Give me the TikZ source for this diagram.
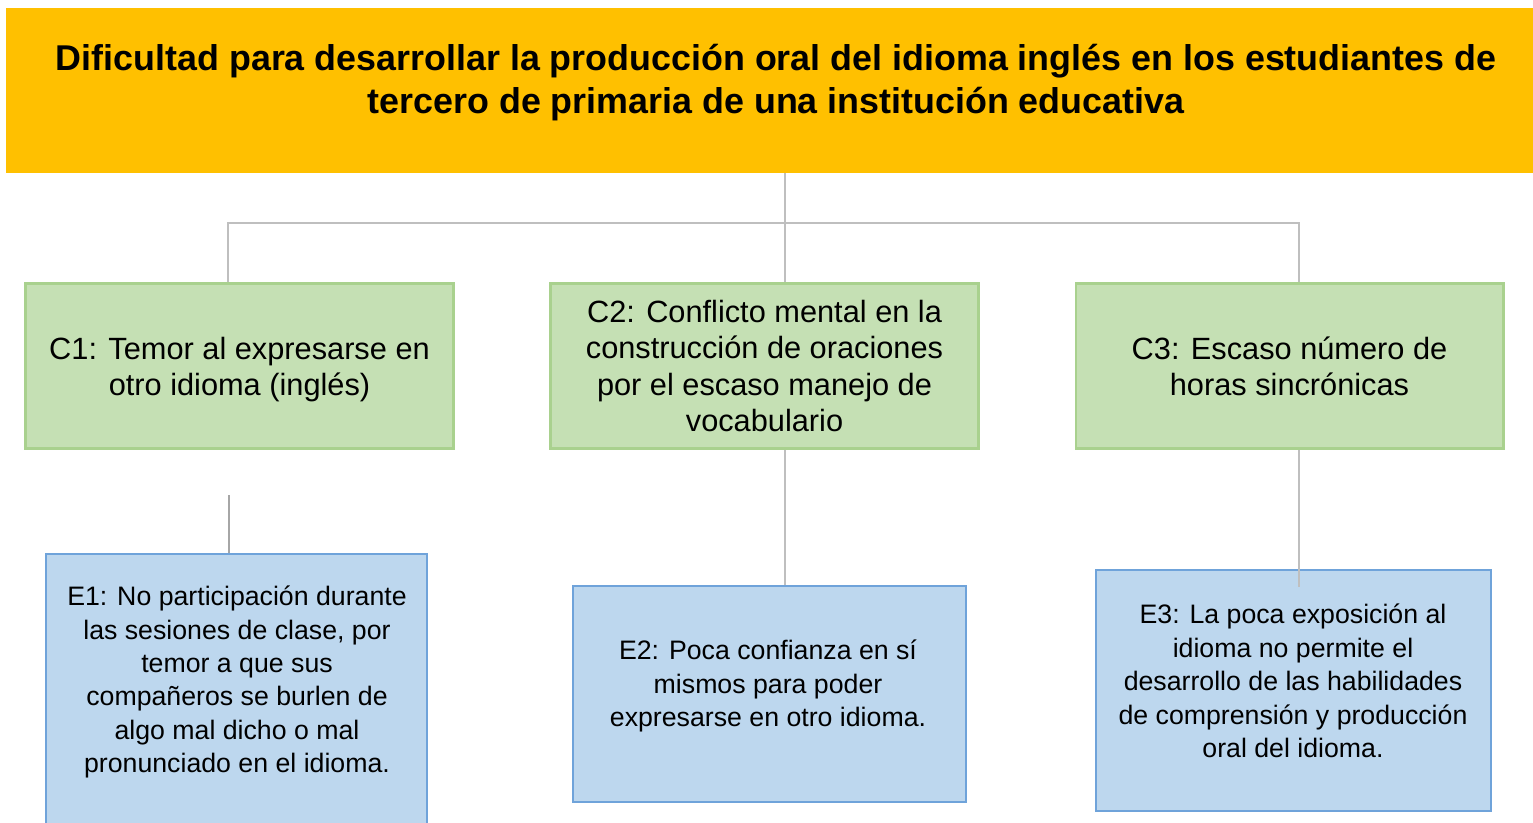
\documentclass[tikz,border=0pt]{standalone}
\usepackage{fontspec}
\setmainfont{Liberation Sans}
\usetikzlibrary{positioning}
\definecolor{titleorange}{HTML}{FFC000}
\definecolor{causegreen}{HTML}{C5E0B4}
\definecolor{causeedge}{HTML}{A9D18E}
\definecolor{effectblue}{HTML}{BDD7EE}
\definecolor{effectedge}{HTML}{6FA3DA}
\definecolor{linkgray}{HTML}{BFBFBF}
\definecolor{stubgray}{HTML}{A6A6A6}
\tikzset{font=\fontsize{17.5}{20.6}\selectfont}
\tikzset{
  topbox/.style={fill=titleorange, minimum width=30.68cm, minimum height=3.3cm, inner sep=0pt},
  cause/.style={draw=causeedge, fill=causegreen, line width=1.2pt, minimum width=8.56cm,
    minimum height=3.3cm, align=center, inner sep=0pt},
  effect/.style={draw=effectedge, fill=effectblue, line width=1.2pt, inner sep=0pt},
  efftext/.style={align=center, inner sep=0pt, font=\fontsize{15.2}{19}\selectfont},
  link/.style={draw=linkgray, line width=1.1pt}
}

\begin{document}
\begin{tikzpicture}[x=0.02cm,y=-0.02cm]
  \useasboundingbox (0,0) rectangle (1533,822);

  % problem
  \node[topbox] (top) at (773,90.5) {};
  \node[font=\bfseries\fontsize{20.4}{24.4}\selectfont, align=center] (title) at (776,83)
    {Dificultad para desarrollar la producción oral del idioma inglés en los estudiantes de\\
     tercero de primaria de una institución educativa};

  % causes
  \node[cause, text depth=0pt] (c1) at (239.5,366) {C1: Temor al expresarse en\\otro idioma (inglés)};
  \node[cause] (c2) at (764.5,366) {C2: Conflicto mental en la\\construcción de oraciones\\
    por el escaso manejo de\\vocabulario};
  \node[cause] (c3) at (1289.5,366) {C3: Escaso número de\\horas sincrónicas};

  % effects
  \node[effect, minimum width=7.62cm, minimum height=5.52cm] (e1) at (236.5,692) {};
  \node[efftext] (e1t) at (237,682) {E1: No participación durante\\las sesiones de clase, por\\
    temor a que sus\\compañeros se burlen de\\algo mal dicho o mal\\pronunciado en el idioma.};
  \node[effect, minimum width=7.86cm, minimum height=4.32cm] (e2) at (769.5,694) {};
  \node[efftext] (e2t) at (768,686) {E2: Poca confianza en sí\\mismos para poder\\
    expresarse en otro idioma.};
  \node[effect, minimum width=7.9cm, minimum height=4.82cm] (e3) at (1293.5,690.5) {};
  \node[efftext] (e3t) at (1293,681) {E3: La poca exposición al\\idioma no permite el\\
    desarrollo de las habilidades\\de comprensión y producción\\oral del idioma.};

  % connectors
  \coordinate (k1) at (228,223);
  \coordinate (k2) at (785,223);
  \coordinate (k3) at (1299,223);
  \coordinate (k1e) at (229,495);
  \coordinate (k3e) at (1299,587);
  \draw[link] (top.south -| k2) -- (k2 |- c2.north);
  \draw[link] (k1 |- c1.north) -- (k1) -- (k3) -- (k3 |- c3.north);
  \draw[link] (c2.south -| k2) -- (k2 |- e2.north);
  \draw[link] (c3.south -| k3) -- (k3e);
  \draw[draw=stubgray, line width=1.7pt] (k1e) -- (k1e |- e1.north);
\end{tikzpicture}
\end{document}
